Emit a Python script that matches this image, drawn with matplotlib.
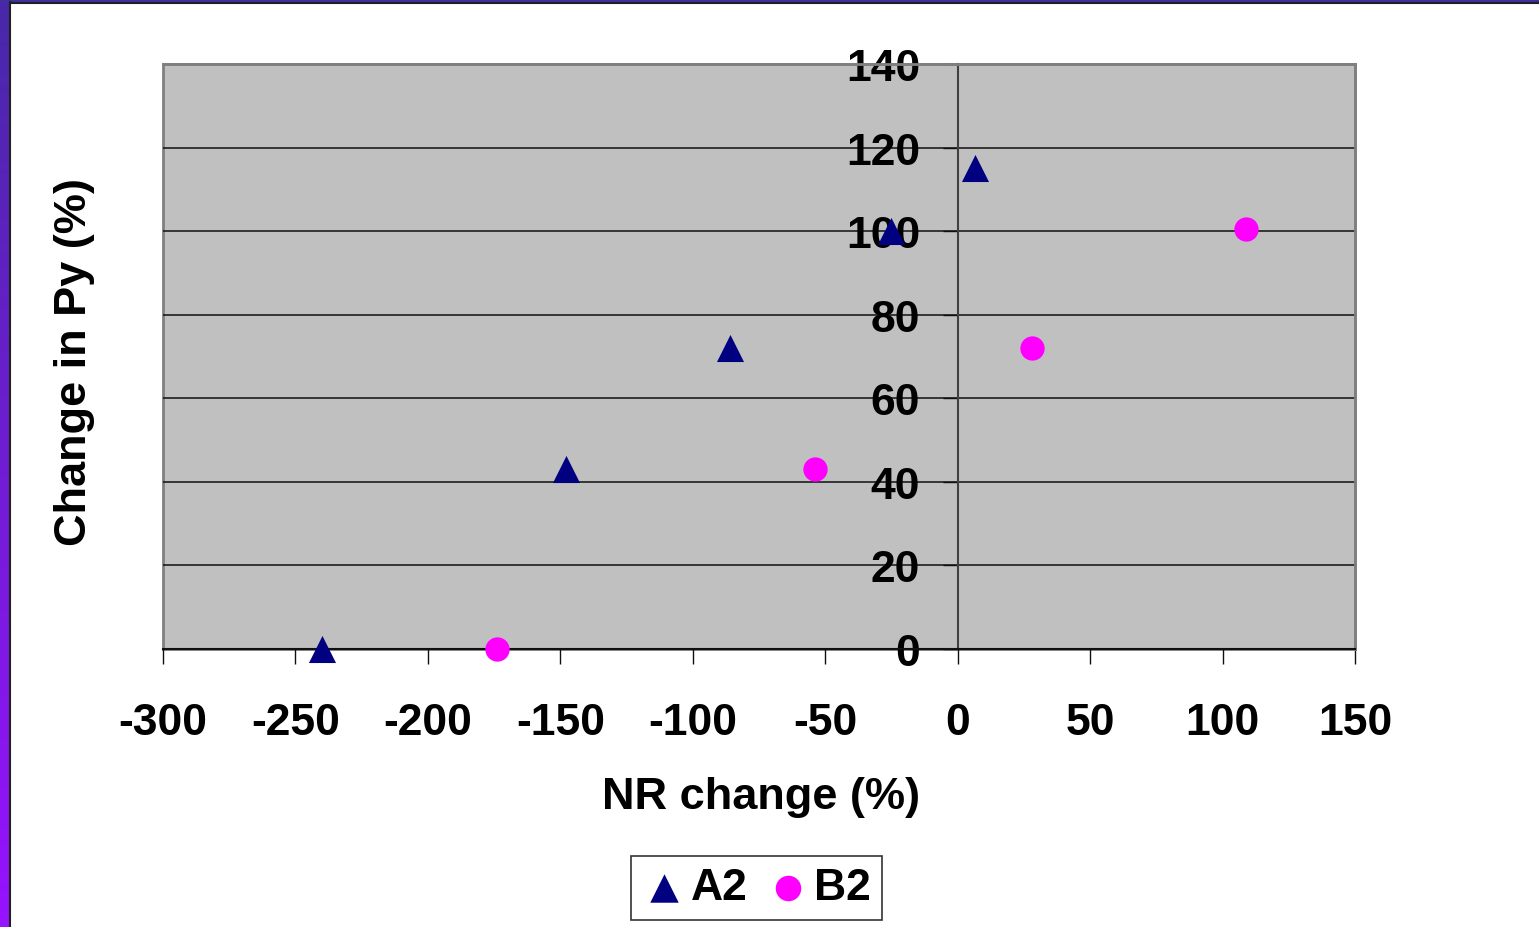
import numpy as np
import matplotlib.pyplot as plt
from matplotlib.patches import Rectangle

plt.rcParams['font.family'] = ['Liberation Sans', 'DejaVu Sans']
plt.rcParams['font.weight'] = 'bold'
plt.rcParams['axes.unicode_minus'] = False

# scenario points: NR change (%) vs change in Py (%)
a2_x = [-240, -148, -86, -25, 6.5]
a2_y = [0, 43, 72, 100, 115]
b2_x = [-174, -54, 28, 109]
b2_y = [0, 43, 72, 100.5]

x_ticks = [-300, -250, -200, -150, -100, -50, 0, 50, 100, 150]
y_ticks = [0, 20, 40, 60, 80, 100, 120, 140]

fig = plt.figure(figsize=(15.39, 9.28), dpi=100)
fig.patch.set_facecolor('white')

# slide frame: purple gradient down the left, blue strip on top
band = fig.add_axes([0, 0, 9 / 1539, 1])
grad = np.linspace(0, 1, 256)[:, None]
top_c = np.array([72, 40, 168]) / 255
bot_c = np.array([152, 18, 255]) / 255
img = top_c[None, None, :] * (1 - grad[:, :, None]) + bot_c[None, None, :] * grad[:, :, None]
band.imshow(img, aspect='auto', extent=[0, 1, 0, 1])
band.axis('off')
fig.add_artist(Rectangle((0, 1 - 3 / 928), 1, 3 / 928, transform=fig.transFigure,
                         facecolor='#3f2f9f', edgecolor='none'))
fig.add_artist(plt.Line2D([10 / 1539, 10 / 1539], [0, 1 - 3 / 928], transform=fig.transFigure,
                          color='#202020', lw=1.5))
fig.add_artist(plt.Line2D([10 / 1539, 1], [1 - 4 / 928, 1 - 4 / 928], transform=fig.transFigure,
                          color='#202020', lw=1.5))

ax = fig.add_axes([163 / 1539, 1 - 650 / 928, 1192 / 1539, 585 / 928])
ax.set_facecolor('#c0c0c0')
ax.set_xlim(-300, 150)
ax.set_ylim(0, 140)

for y in y_ticks[1:]:
    ax.axhline(y, color='#101010', lw=1.1, zorder=1)

ax.scatter(a2_x, a2_y, marker='^', s=19.5 ** 2, color='#000080', linewidths=0,
           zorder=3, clip_on=False, label='A2')
ax.scatter(b2_x, b2_y, marker='o', s=17.5 ** 2, color='#ff00ff', linewidths=0,
           zorder=3, clip_on=False, label='B2')

for side in ['top', 'right']:
    ax.spines[side].set_color('#808080')
    ax.spines[side].set_linewidth(2)
ax.spines['bottom'].set_color('#101010')
ax.spines['bottom'].set_linewidth(1.5)
ax.spines['left'].set_position(('data', 0))
ax.spines['left'].set_color('#404040')
ax.spines['left'].set_linewidth(1.5)
# plot-area edge on the left, since the y spine sits at x=0
ax.add_patch(Rectangle((0, 0), 1, 1, transform=ax.transAxes, fill=False,
                       edgecolor='#808080', lw=2, zorder=0.5, clip_on=False))

ax.set_xticks(x_ticks)
ax.set_yticks(y_ticks)
ax.tick_params(axis='x', direction='out', length=11, width=1, color='#101010', pad=27, labelsize=32)
ax.tick_params(axis='y', direction='out', length=11, width=1, color='#101010', pad=16, labelsize=32)
for lab in ax.get_xticklabels() + ax.get_yticklabels():
    lab.set_fontweight('bold')

fig.text(761 / 1539, 1 - 798 / 928, 'NR change (%)', ha='center', va='center',
         fontsize=32.5, fontweight='bold')
fig.text(75 / 1539, 1 - 362 / 928, 'Change in Py (%)', ha='center', va='center',
         rotation=90, fontsize=32.5, fontweight='bold')

leg = fig.legend(loc='center', bbox_to_anchor=(756.5 / 1539, 1 - 889 / 928), ncol=2,
                 fontsize=32, frameon=True, fancybox=False, edgecolor='black',
                 handletextpad=0.1, columnspacing=0.4, borderpad=0.25, handlelength=1.0,
                 borderaxespad=0, markerscale=1.05)
leg.get_frame().set_linewidth(1.2)
for t in leg.get_texts():
    t.set_fontweight('bold')

fig.savefig('out.png', dpi=100)
